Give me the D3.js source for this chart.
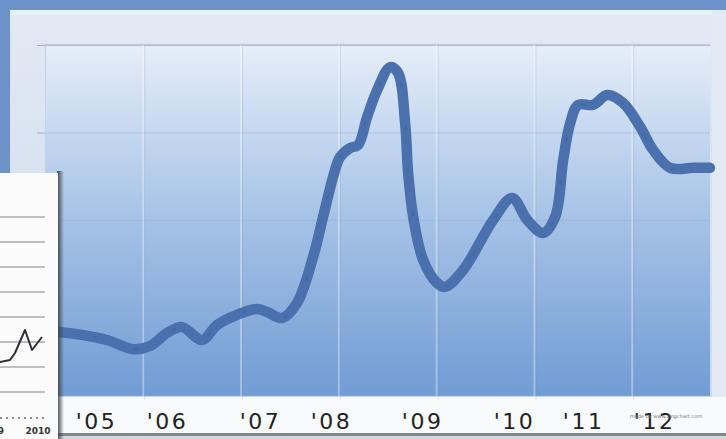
<!DOCTYPE html>
<html><head><meta charset="utf-8">
<script src="https://cdn.jsdelivr.net/npm/d3@7"></script>
<style>html,body{margin:0;padding:0;background:#6b93c9;overflow:hidden}svg{display:block}</style>
</head><body>
<script>
// ---- data ----
const years = [2004.38,2004.794,2005.095,2005.422,2005.635,2005.848,2006.036,2006.287,2006.475,2006.726,2006.977,2007.103,2007.291,2007.479,2007.68,2007.806,2007.931,2008.019,2008.145,2008.245,2008.358,2008.484,2008.647,2008.747,2008.835,2008.873,2008.936,2009.061,2009.237,2009.337,2009.563,2009.94,2010.178,2010.367,2010.567,2010.718,2010.818,2010.906,2011.006,2011.195,2011.37,2011.57,2011.784,2011.947,2012.16,2012.449,2012.66];
const values = [18.3,17.1,15.7,13.1,14.0,17.7,19.4,15.7,20.0,22.9,24.6,23.7,22.0,26.3,39.4,50.9,62.3,68.0,70.6,71.4,79.4,87.1,93.7,92.0,77.7,63.4,50.9,38.6,32.0,30.9,35.7,50.0,56.3,50.0,46.3,50.9,67.1,77.7,82.9,82.9,85.7,83.4,76.6,70.0,64.9,64.9,64.9];
const tickYears = [2004.957,2005.848,2007.015,2007.906,2009.048,2010.202,2011.068,2011.959];
const tickLabels = ["'05","'06","'07","'08","'09","'10","'11","'12"];
const yTicks = [0,25,50,75,100];
const gridSteps = [1,2,3,4,5,6];
// inset mini chart
const insetX = [-1,0,2,3,5,6.4,8.4];
const insetY = [1.1,1.2,1.28,1.56,2.48,1.68,2.2];
const insetGrid = [0,1,2,3,4,5,6,7];
const insetLabels = ["2009","2010"];

// ---- drawing ----
const W = 726, H = 439;
const svg = d3.select("body").append("svg").attr("width", W).attr("height", H);
const defs = svg.append("defs");
const g1 = defs.append("linearGradient").attr("id","plotGrad").attr("x1",0).attr("y1",0).attr("x2",0).attr("y2",1);
g1.append("stop").attr("offset","0%").attr("stop-color","#e6eef9");
g1.append("stop").attr("offset","45%").attr("stop-color","#abc6e8");
g1.append("stop").attr("offset","100%").attr("stop-color","#719cd4");
const g2 = defs.append("linearGradient").attr("id","panelGrad").attr("x1",0).attr("y1",0).attr("x2",0).attr("y2",1);
g2.append("stop").attr("offset","0%").attr("stop-color","#e2e9f4");
g2.append("stop").attr("offset","100%").attr("stop-color","#c9d8ec");
const g3 = defs.append("linearGradient").attr("id","shadowGrad").attr("x1",0).attr("y1",0).attr("x2",1).attr("y2",0);
g3.append("stop").attr("offset","0%").attr("stop-color","#3c3f44");
g3.append("stop").attr("offset","100%").attr("stop-color","#3c3f44").attr("stop-opacity",0);

// outer background
svg.append("rect").attr("width",W).attr("height",H).attr("fill","#6b93c9");
// panel
svg.append("rect").attr("x",10).attr("y",10).attr("width",W-10).attr("height",425).attr("fill","url(#panelGrad)");
svg.append("rect").attr("x",10).attr("y",10).attr("width",W-10).attr("height",5).attr("fill","#edf2f9").attr("opacity",0.7);
svg.append("rect").attr("x",712).attr("y",10).attr("width",14).attr("height",425).attr("fill","#e3eaf4");
// label strip
svg.append("rect").attr("x",10).attr("y",397).attr("width",W-10).attr("height",37).attr("fill","#f8fafc");
svg.append("rect").attr("x",0).attr("y",433).attr("width",W).attr("height",3).attr("fill","#80868e");
svg.append("rect").attr("x",0).attr("y",436).attr("width",W).attr("height",3).attr("fill","#d3d8de");

const pL = 45, pR = 710, pT = 45, pB = 396;
const x = d3.scaleLinear().domain([2004.317, 2012.66]).range([pL, pR]);
const y = d3.scaleLinear().domain([0, 100]).range([395, pT]);
const gx = d3.scaleLinear().domain([0, 6.8]).range([pL, pR]);

svg.append("rect").attr("x",pL).attr("y",pT).attr("width",pR-pL).attr("height",pB-pT).attr("fill","url(#plotGrad)");

// horizontal grid
const hg = svg.append("g").attr("transform",`translate(${pL},0)`)
  .call(d3.axisLeft(y).tickValues(yTicks).tickSize(-(pR-pL)).tickFormat(""));
hg.select(".domain").remove();
hg.selectAll("line").attr("stroke","#8fa8c8").attr("stroke-opacity",0.3).attr("stroke-width",1.5);
// left tick marks
const lt = svg.append("g").attr("transform",`translate(${pL},0)`)
  .call(d3.axisLeft(y).tickValues(yTicks).tickSize(8).tickFormat(""));
lt.select(".domain").attr("stroke","#c3d2e6");
lt.selectAll("line").attr("stroke","#9aaec8");
svg.append("line").attr("x1",pL).attr("x2",pR).attr("y1",pT).attr("y2",pT).attr("stroke","#b7c6da").attr("stroke-width",2);

// vertical grid
const vg = svg.append("g").attr("transform",`translate(0,${pB+4})`)
  .call(d3.axisBottom(gx).tickValues(gridSteps).tickSize(-(pB+4-pT)).tickFormat(""));
vg.select(".domain").remove();
vg.selectAll("line").attr("stroke","#ffffff").attr("stroke-opacity",0.35).attr("stroke-width",2);
const vg2 = svg.append("g").attr("transform",`translate(1.5,${pB+4})`)
  .call(d3.axisBottom(gx).tickValues(gridSteps).tickSize(-(pB+4-pT)).tickFormat(""));
vg2.select(".domain").remove();
vg2.selectAll("line").attr("stroke","#6f8fb8").attr("stroke-opacity",0.22).attr("stroke-width",1);

// main line
const line = d3.line().x((d,i)=>x(years[i])).y((d,i)=>y(values[i])).curve(d3.curveCatmullRom.alpha(0.5));
svg.append("path").datum(values).attr("d",line).attr("fill","none")
  .attr("stroke","#4a71ad").attr("stroke-width",10.5).attr("stroke-linecap","round").attr("stroke-linejoin","round");
svg.append("path").datum(values).attr("d",line).attr("fill","none")
  .attr("stroke","#3a5f97").attr("stroke-width",2).attr("stroke-opacity",0.45).attr("stroke-dasharray","5,38");

// x labels
const xa = svg.append("g").attr("transform","translate(0,410)")
  .call(d3.axisBottom(x).tickValues(tickYears).tickSize(0).tickFormat((d,i)=>tickLabels[i]));
xa.select(".domain").remove();
xa.selectAll("text").attr("font-family","'DejaVu Sans', Verdana, sans-serif").attr("font-size",22)
  .attr("letter-spacing","2.5px").attr("fill","#1f2226").attr("dy","0.72em");

// watermark
svg.append("text").attr("x",666).attr("y",418).attr("text-anchor","middle")
  .attr("font-family","'DejaVu Sans', sans-serif").attr("font-size",5).attr("fill","#777")
  .text("made by www.zingchart.com");

// ---- inset ----
const ins = svg.append("g");
ins.append("rect").attr("x",57).attr("y",171).attr("width",7).attr("height",268).attr("fill","url(#shadowGrad)");
ins.append("rect").attr("x",0).attr("y",173).attr("width",58).attr("height",266).attr("fill","#fbfbfb");
const ix = d3.scaleLinear().domain([0, 8.4]).range([0, 42]);
const iy = d3.scaleLinear().domain([0, 7]).range([392, 217]);
ins.selectAll("line.ig").data(insetGrid).join("line").attr("class","ig")
  .attr("x1",0).attr("x2",45).attr("y1",d=>iy(d)).attr("y2",d=>iy(d))
  .attr("stroke","#a9abae").attr("stroke-width",1.3);
ins.append("line").attr("x1",0).attr("x2",45).attr("y1",418).attr("y2",418)
  .attr("stroke","#666").attr("stroke-width",1.3).attr("stroke-dasharray","2,4");
ins.append("path").datum(insetY).attr("fill","none").attr("stroke","#2e3033").attr("stroke-width",2)
  .attr("stroke-linejoin","round")
  .attr("d", d3.line().x((d,i)=>ix(insetX[i])).y(d=>iy(d)));
ins.selectAll("text.il").data(insetLabels).join("text").attr("class","il")
  .attr("x",(d,i)=> i===0 ? 4 : 38).attr("y",434).attr("text-anchor",(d,i)=> i===0 ? "end" : "middle")
  .attr("font-family","'DejaVu Sans', sans-serif").attr("font-weight","bold").attr("font-size",9)
  .attr("fill","#333").text(d=>d);
</script>
</body></html>
